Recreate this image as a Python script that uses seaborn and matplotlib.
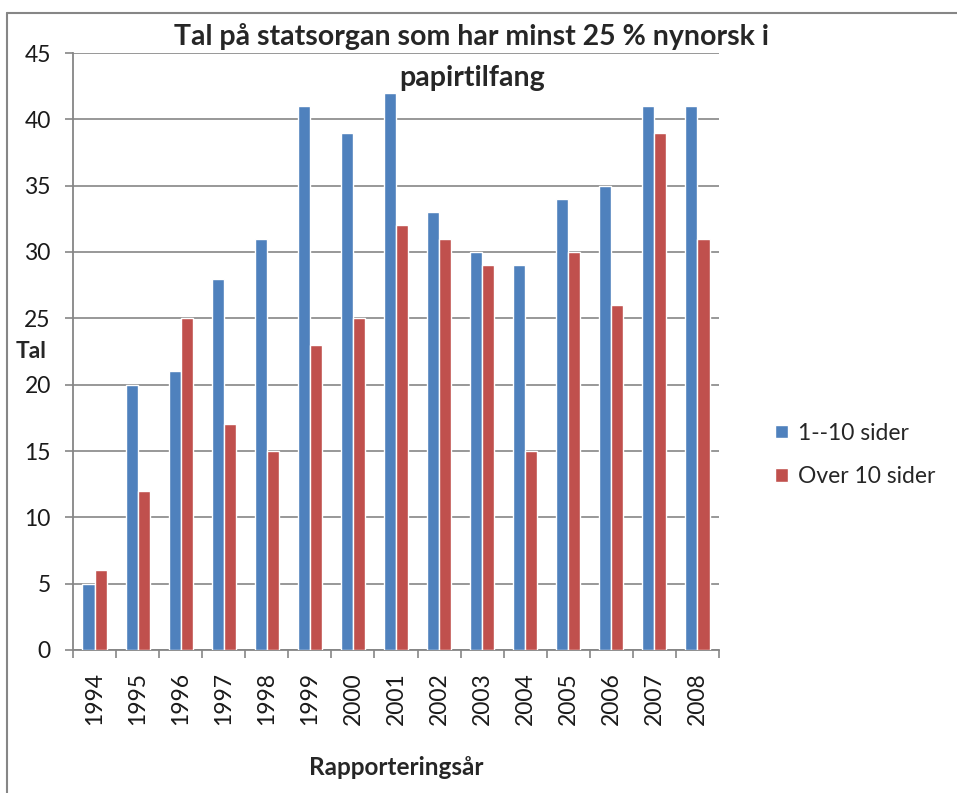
import matplotlib
matplotlib.use("Agg")
import matplotlib.pyplot as plt
from matplotlib.lines import Line2D
from matplotlib.ticker import FixedLocator, MultipleLocator
import seaborn as sns
import pandas as pd

years = ["1994", "1995", "1996", "1997", "1998", "1999", "2000", "2001",
         "2002", "2003", "2004", "2005", "2006", "2007", "2008"]
small_docs = [5, 20, 21, 28, 31, 41, 39, 42, 33, 30, 29, 34, 35, 41, 41]
large_docs = [6, 12, 25, 17, 15, 23, 25, 32, 31, 29, 15, 30, 26, 39, 31]
series_names = ["1--10 sider", "Over 10 sider"]
colors = ["#4F81BD", "#C0504D"]

df = pd.DataFrame({
    "År": years * 2,
    "Tal": small_docs + large_docs,
    "Serie": [series_names[0]] * len(years) + [series_names[1]] * len(years),
})

sns.set_style("white")
plt.rcParams["font.family"] = ["Lato", "DejaVu Sans"]

fig = plt.figure(figsize=(9.57, 7.93), dpi=100)
ax = fig.add_axes([73 / 957, 1 - 650 / 793, (719 - 73) / 957, (650 - 53) / 793])

sns.barplot(data=df, x="År", y="Tal", hue="Serie", palette=colors,
            width=0.56, saturation=1, ax=ax, zorder=3)

grey = "#868686"
ax.set_ylim(0, 45)
ax.set_xlim(-0.5, len(years) - 0.5)
ax.yaxis.set_major_locator(MultipleLocator(5))
ax.grid(axis="y", color=grey, linewidth=1.2, zorder=0)
ax.grid(axis="x", visible=False)
for side in ["top", "right"]:
    ax.spines[side].set_visible(False)
for side in ["left", "bottom"]:
    ax.spines[side].set_color(grey)
    ax.spines[side].set_linewidth(1.3)

ax.tick_params(axis="y", length=6, width=1.2, color=grey, labelsize=16.5,
               labelcolor="#1a1a1a", pad=10, left=True)
ax.xaxis.set_minor_locator(FixedLocator([i - 0.5 for i in range(len(years) + 1)]))
ax.tick_params(axis="x", which="minor", length=6, width=1.2, color=grey, bottom=True)
ax.tick_params(axis="x", which="major", length=0, labelsize=16.5,
               labelcolor="#1a1a1a", pad=16, labelrotation=90)

ax.set_xlabel("Rapporteringsår", fontsize=17.5, fontweight="bold", labelpad=22)
ax.set_ylabel("Tal", fontsize=16.5, fontweight="bold", rotation=0, va="center")
ax.yaxis.set_label_coords(-0.065, 0.5)

fig.text(472 / 957, 1 - 37 / 793, "Tal på statsorgan som har minst 25 % nynorsk i",
         ha="center", va="center", fontsize=20.5, fontweight="bold")
fig.text(472 / 957, 1 - 78 / 793, "papirtilfang",
         ha="center", va="center", fontsize=20.5, fontweight="bold")

ax.legend(loc="center left", bbox_to_anchor=(775 / 957, 1 - 455 / 793),
          bbox_transform=fig.transFigure, frameon=False, fontsize=16.5,
          handlelength=0.55, handleheight=0.55, handletextpad=0.45,
          labelspacing=1.0, borderpad=0, borderaxespad=0, title=None)

# chart area outline
fig.add_artist(Line2D([7 / 957, 1], [1 - 13 / 793] * 2, color=grey, linewidth=1.5))
fig.add_artist(Line2D([7 / 957] * 2, [0, 1 - 13 / 793], color=grey, linewidth=1.5))

fig.savefig("out.png", dpi=100)
